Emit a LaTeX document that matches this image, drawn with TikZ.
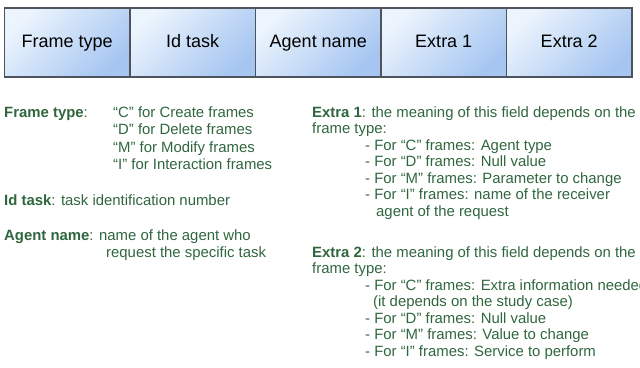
\documentclass[tikz,border=0pt]{standalone}
\usepackage{fontspec}
\setmainfont{Liberation Sans}
\usetikzlibrary{positioning}
\definecolor{boxlight}{RGB}{236,244,253}
\definecolor{boxdark}{RGB}{166,198,241}
\definecolor{boxline}{RGB}{78,84,92}
\definecolor{txtgreen}{RGB}{48,102,62}
\tikzset{
  field/.style={draw=boxline, line width=1.4pt, top color=boxlight, bottom color=boxdark,
    shading angle=45, minimum width=125.5pt, minimum height=69pt, inner sep=0pt,
    text height=13pt, text depth=4pt, font=\fontsize{18}{20}\selectfont},
  txt/.style={anchor=base west, inner sep=0pt, text=txtgreen, font=\fontsize{14.9}{16.5}\selectfont}
}
\begin{document}
\begin{tikzpicture}[x=1pt, y=-1pt]
    \useasboundingbox (0,0) rectangle (640,367);
    % the five fields of a frame
    \node[field] (ftype) at (67.25,42.5) {Frame type};
    \node[field] (idtask) at (192.75,42.5) {Id task};
    \node[field] (agname) at (318.25,42.5) {Agent name};
    \node[field] (extra1) at (443.75,42.5) {Extra 1};
    \node[field] (extra2) at (569.25,42.5) {Extra 2};
    % left column
    \node[txt] (ftlab) at (4,117) {\textbf{Frame type}:};
    \node[txt] (ftc) at (113,117) {“C” for Create frames};
    \node[txt] (ftd) at (113,134.5) {“D” for Delete frames};
    \node[txt] (ftm) at (113,152) {“M” for Modify frames};
    \node[txt] (fti) at (113,169.5) {“I” for Interaction frames};
    \node[txt] (idlab) at (4,205) {\textbf{Id task}: task identification number};
    \node[txt] (aglab) at (4,240) {\textbf{Agent name}: name of the agent who};
    \node[txt] (agreq) at (106,257.5) {request the specific task};
    % right column, extra 1
    \node[txt] (exa) at (312,117) {\textbf{Extra 1}: the meaning of this field depends on the};
    \node[txt] (exaft) at (312,133.5) {frame type:};
    \node[txt] (exac) at (365,150) {- For “C” frames: Agent type};
    \node[txt] (exad) at (365,166.5) {- For “D” frames: Null value};
    \node[txt] (exam) at (365,183) {- For “M” frames: Parameter to change};
    \node[txt] (exai) at (365,199.5) {- For “I” frames: name of the receiver};
    \node[txt] (exai2) at (376,216) {agent of the request};
    % right column, extra 2
    \node[txt] (exb) at (312,257) {\textbf{Extra 2}: the meaning of this field depends on the};
    \node[txt] (exbft) at (312,273.5) {frame type:};
    \node[txt] (exbc) at (365,290) {- For “C” frames: Extra information needed};
    \node[txt] (exbc2) at (373,306.5) {(it depends on the study case)};
    \node[txt] (exbd) at (365,323) {- For “D” frames: Null value};
    \node[txt] (exbm) at (365,339.5) {- For “M” frames: Value to change};
    \node[txt] (exbi) at (365,356) {- For “I” frames: Service to perform};
\end{tikzpicture}
\end{document}
